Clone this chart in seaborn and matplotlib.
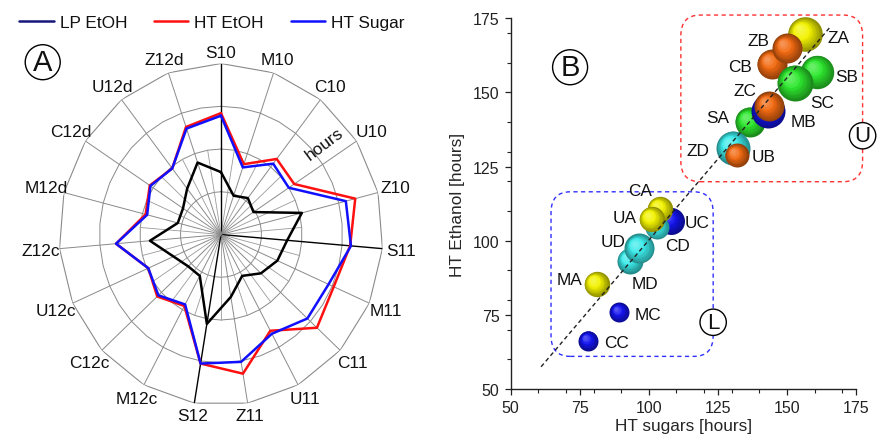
import numpy as np
import matplotlib
matplotlib.use("Agg")
import matplotlib.pyplot as plt
import seaborn as sns
from matplotlib.colors import to_rgb
from matplotlib.lines import Line2D
from matplotlib.patches import FancyBboxPatch
from matplotlib.transforms import ScaledTranslation
from matplotlib.ticker import MultipleLocator

# ---- panel A: radar data (hours) ----
categories = ['S10', 'M10', 'C10', 'U10', 'Z10', 'S11', 'M11', 'C11', 'U11', 'Z11',
              'S12', 'M12c', 'C12c', 'U12c', 'Z12c', 'M12d', 'C12d', 'U12d', 'Z12d']
lp_etoh = [73, 48, 54, 48, 103, 82, 76, 67, 55, 74, 106, 55, 55, 64, 88, 55, 56, 68, 89]
ht_etoh = [142, 87, 112, 108, 171, 160, 152, 161, 128, 165, 153, 95, 107, 98, 130, 96, 105, 98, 133]
ht_sugar = [139, 83, 105, 100, 159, 161, 145, 145, 132, 151, 153, 93, 105, 98, 130, 94, 104, 98, 131]
ring_values = [50, 100, 150]
r_max = 200

# ---- panel B: HT sugars vs HT ethanol ----
sample = ['ZA', 'CB', 'ZB', 'SB', 'SC', 'SA', 'ZC', 'MB', 'ZD', 'UB',
          'UC', 'CD', 'CA', 'UA', 'MD', 'UD', 'MA', 'MC', 'CC']
ht_sugars = [156.5, 144.5, 150.1, 161.0, 152.9, 136.6, 143.3, 143.6, 130.6, 131.8,
             107.9, 103.0, 104.0, 101.0, 93.2, 96.6, 81.1, 89.3, 78.1]
ht_ethanol = [169.7, 159.6, 164.9, 157.0, 153.2, 140.1, 143.8, 145.3, 131.3, 128.9,
              106.8, 104.5, 110.7, 107.3, 93.3, 97.4, 85.4, 75.9, 66.3]
ball_size = [17.3, 15, 15, 16.7, 18, 15, 17, 15, 17, 12,
             13.5, 12, 12.7, 12.7, 13, 15, 12.7, 10, 10]
fit_x = [61, 165.6]
fit_y = [57.5, 172]

ball_palette = {'A': '#f2f200', 'B': '#f26a12', 'C': '#1414f0', 'D': '#3ceaea', 'S': '#2ee82e'}
label_offset = {'ZA': (34, -3), 'CB': (-32, -3), 'ZB': (-29, 8), 'SB': (29, -5), 'SC': (27, -20),
                'SA': (-32, 4), 'ZC': (-23, 20), 'MB': (34, -15), 'ZD': (-35, -3), 'UB': (27, -1),
                'UC': (26, -2), 'CD': (20, -18), 'CA': (-20, 18), 'UA': (-27, 2), 'MD': (15, -23),
                'UD': (-26, 7), 'MA': (-27, 5), 'MC': (29, -2), 'CC': (28, -2)}

sns.set_theme(style='ticks')
plt.rcParams['font.family'] = ['Liberation Sans', 'DejaVu Sans']
plt.rcParams['text.color'] = '#111111'

fig = plt.figure(figsize=(8.79, 4.39), dpi=100)

# ================= A =================
axA = fig.add_axes([0.0671, 0.0740, 0.3686, 0.779], projection='polar')
axA.set_aspect('auto')
axA.set_theta_zero_location('N')
axA.set_theta_direction(-1)
n = len(categories)
theta = np.arange(n) * 2 * np.pi / n
theta_half = np.arange(2 * n) * np.pi / n

axA.grid(False)
axA.spines['polar'].set_visible(False)
axA.set_yticks([])
axA.set_xticks([])
axA.set_ylim(0, r_max)

# polygon rings and spokes
for rv in ring_values:
    axA.plot(np.append(theta_half, theta_half[0]), [rv] * (2 * n + 1), color='#8a8a8a', lw=0.7)
axA.plot(np.append(theta, theta[0]), [r_max] * (n + 1), color='#8a8a8a', lw=0.8)
for t in theta_half[1::2]:
    axA.plot([t, t], [0, ring_values[1]], color='#9a9a9a', lw=0.6)
for i, t in enumerate(theta):
    dark = categories[i] in ('S10', 'S11', 'S12')
    axA.plot([t, t], [0, r_max], color='black' if dark else '#8a8a8a', lw=1.0 if dark else 0.7)

tc = np.append(theta, theta[0])
for vals, col in [(lp_etoh, 'black'), (ht_etoh, '#ff1010'), (ht_sugar, '#1010ff')]:
    sns.lineplot(x=tc, y=vals + vals[:1], ax=axA, sort=False, estimator=None, color=col, lw=1.8)
axA.set_xlabel('')
axA.set_ylabel('')
for t, lab in zip(theta, categories):
    axA.text(t, 213 + 10 * abs(np.sin(t)), lab, ha='center', va='center', fontsize=12.4,
             clip_on=False)
axA.text(np.deg2rad(50), 166, 'hours', rotation=37, ha='center', va='center', fontsize=12.4)

fig.text(0.0486, 0.856, 'A', fontsize=21, ha='center', va='center',
         bbox=dict(boxstyle='circle,pad=0.12', fc='white', ec='black', lw=1))

handles = [Line2D([], [], color='#16167a', lw=1.8), Line2D([], [], color='#ff1010', lw=1.8),
           Line2D([], [], color='#1010ff', lw=1.8)]
fig.legend(handles, ['LP EtOH', 'HT EtOH', 'HT Sugar'], loc='center left',
           bbox_to_anchor=(0.022, 0.947), ncol=3, frameon=False, fontsize=12.4,
           handlelength=2.0, handletextpad=0.35, columnspacing=1.55, borderaxespad=0, borderpad=0)

# ================= B =================
axB = fig.add_axes([0.581, 0.1116, 0.3928, 0.8444])
axB.set_xlim(50, 175)
axB.set_ylim(50, 175)
sns.despine(ax=axB)
axB.xaxis.set_major_locator(MultipleLocator(25))
axB.yaxis.set_major_locator(MultipleLocator(25))
axB.xaxis.set_minor_locator(MultipleLocator(10))
axB.yaxis.set_minor_locator(MultipleLocator(10))
axB.tick_params(which='major', length=4.5, width=0.9, labelsize=11.5, colors='#222222')
axB.tick_params(which='minor', length=3, width=0.8, colors='#222222')
for s in ('left', 'bottom'):
    axB.spines[s].set_linewidth(1.0)
    axB.spines[s].set_color('#222222')
axB.set_xlabel('HT sugars [hours]', fontsize=12.4, labelpad=2)
axB.set_ylabel('HT Ethanol [hours]', fontsize=12.4, labelpad=6)


def sphere(ax, x, y, r_px, color, layers=12):
    base = np.array(to_rgb(color))
    for i in range(layers):
        f = i / (layers - 1)
        rad = r_px * (1 - 0.82 * f)
        c = base * (0.6 + 0.4 * min(1, f * 1.6))
        if f > 0.55:
            c = c + (1 - c) * (f - 0.55) * 0.6
        off = ScaledTranslation(-0.32 * r_px * f / fig.dpi, 0.32 * r_px * f / fig.dpi,
                                fig.dpi_scale_trans)
        ax.scatter([x], [y], s=(2 * rad * 72 / fig.dpi) ** 2, color=np.clip(c, 0, 1),
                   transform=ax.transData + off, lw=0, zorder=3, clip_on=False)


for name, x, y, r in zip(sample, ht_sugars, ht_ethanol, ball_size):
    grp = 'S' if name[0] == 'S' else name[1]
    sphere(axB, x, y, r, ball_palette[grp])
    dx, dy = label_offset[name]
    axB.annotate(name, (x, y), xytext=(dx, dy), textcoords='offset pixels',
                 ha='center', va='center', fontsize=12.4, zorder=6)

sns.lineplot(x=fit_x, y=fit_y, ax=axB, color='#222222', lw=1.0, ls=(0, (3, 2.2)), zorder=5)

axB.add_patch(FancyBboxPatch((111.6, 119.9), 177.4 - 111.6, 176.1 - 119.9,
                             boxstyle='round,pad=0,rounding_size=7', fill=False, ec='#ff3030',
                             ls=(0, (3, 2.5)), lw=1.0, clip_on=False, zorder=2))
axB.add_patch(FancyBboxPatch((64.6, 61.0), 123.3 - 64.6, 116.5 - 61.0,
                             boxstyle='round,pad=0,rounding_size=7', fill=False, ec='#3030ff',
                             ls=(0, (3, 2.5)), lw=1.0, clip_on=False, zorder=2))

circ = dict(boxstyle='circle,pad=0.12', fc='white', ec='black', lw=1)
axB.text(71.5, 158.5, 'B', fontsize=21, ha='center', va='center', bbox=circ, zorder=7)
axB.text(177.4, 135.4, 'U', fontsize=16, ha='center', va='center', bbox=circ, zorder=7, clip_on=False)
axB.text(123.3, 72.5, 'L', fontsize=16, ha='center', va='center', bbox=circ, zorder=7)

fig.savefig('out.png', dpi=100)
